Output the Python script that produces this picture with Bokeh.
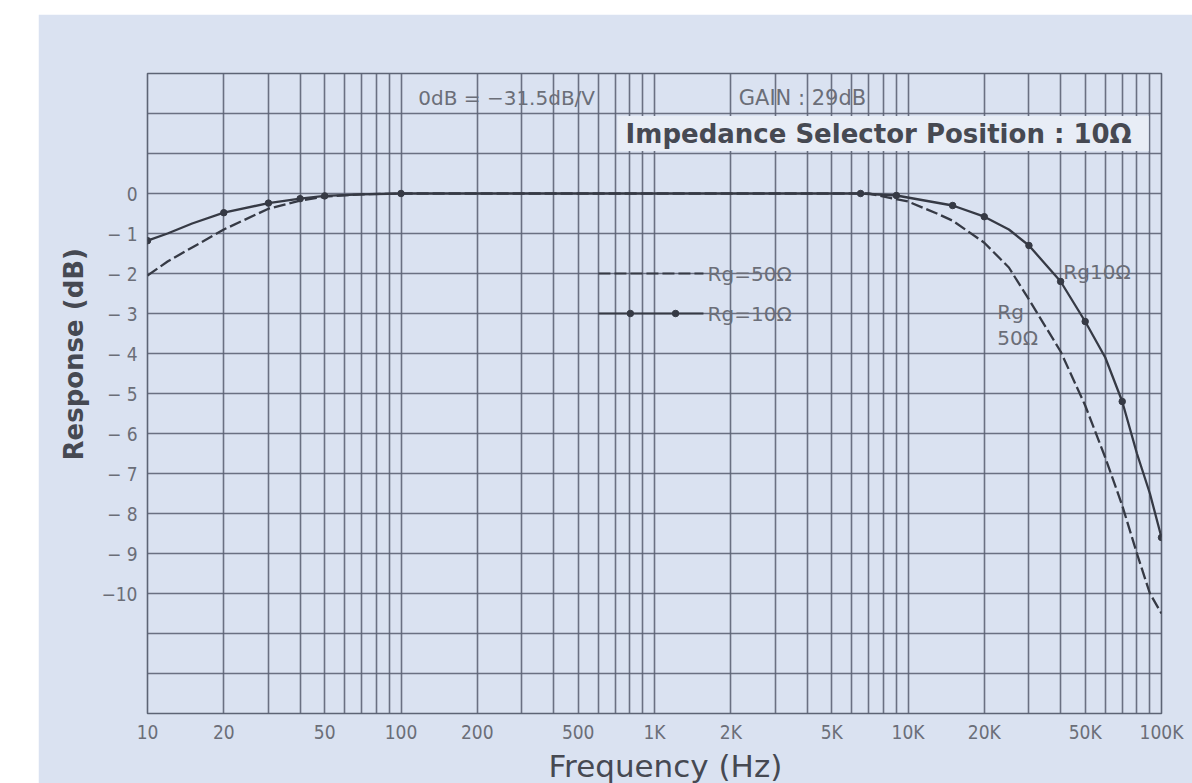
from bokeh.plotting import figure
from bokeh.models import FixedTicker, Label, Range1d, BoxAnnotation, Title
from bokeh.embed import file_html
from bokeh.resources import INLINE

# ---- data ----
freq_10 = [10, 12, 15, 20, 30, 40, 50, 70, 100, 6500, 9000, 15000, 20000, 25000,
           30000, 40000, 50000, 60000, 70000, 80000, 90000, 100000]
resp_10 = [-1.18, -1.0, -0.75, -0.48, -0.24, -0.13, -0.06, -0.02, 0, 0, -0.05, -0.3,
           -0.58, -0.9, -1.3, -2.2, -3.2, -4.1, -5.2, -6.5, -7.5, -8.6]
dot_freq_10 = [10, 20, 30, 40, 50, 100, 6500, 9000, 15000, 20000, 30000, 40000,
               50000, 70000, 100000]
dot_resp_10 = [-1.18, -0.48, -0.24, -0.13, -0.06, 0, 0, -0.05, -0.3, -0.58, -1.3,
               -2.2, -3.2, -5.2, -8.6]

freq_50 = [10, 12, 15, 20, 30, 40, 50, 70, 100, 7000, 10000, 13000, 15000, 20000,
           25000, 30000, 40000, 50000, 60000, 70000, 80000, 90000, 100000]
resp_50 = [-2.05, -1.7, -1.35, -0.9, -0.38, -0.18, -0.08, -0.02, 0, 0, -0.2, -0.5,
           -0.68, -1.23, -1.85, -2.65, -3.95, -5.3, -6.6, -7.8, -9.0, -10.0, -10.5]

x_ticks = [10, 20, 50, 100, 200, 500, 1000, 2000, 5000, 10000, 20000, 50000, 100000]
x_labels = ["10", "20", "50", "100", "200", "500", "1K", "2K", "5K", "10K", "20K",
            "50K", "100K"]
y_ticks = [0, -1, -2, -3, -4, -5, -6, -7, -8, -9, -10]
y_labels = ["0", "− 1", "− 2", "− 3", "− 4", "− 5", "− 6", "− 7", "− 8", "− 9", "−10"]

# ---- styling ----
PAPER = "#dae2f1"
BOXFILL = "#e8edf6"
GRID = "#5d6475"
INK = "#363a45"
TEXT = "#464952"
LIGHT_TEXT = "#6b6e78"
COND = "DejaVu Sans Condensed, DejaVu Sans, sans-serif"
SANS = "DejaVu Sans"

p = figure(width=1154, height=769, x_axis_type="log",
           x_range=Range1d(10, 100000), y_range=Range1d(-13, 3),
           output_backend="svg", toolbar_location=None,
           min_border_left=109, min_border_right=31,
           min_border_top=59, min_border_bottom=70,
           background_fill_color=PAPER, border_fill_color=PAPER,
           outline_line_color=GRID, outline_line_width=1.6,
           margin=(14, 0, 0, 38))

grid_x = [m * 10 ** d for d in range(1, 5) for m in range(1, 10)] + [100000]
p.xgrid.ticker = FixedTicker(ticks=grid_x)
p.ygrid.ticker = FixedTicker(ticks=list(range(-13, 4)))
for g in (p.xgrid, p.ygrid):
    g.grid_line_color = GRID
    g.grid_line_width = 1.6
    g.grid_line_alpha = 0.9

p.xaxis.ticker = FixedTicker(ticks=x_ticks)
p.xaxis.major_label_overrides = {t: l for t, l in zip(x_ticks, x_labels)}
p.yaxis.ticker = FixedTicker(ticks=y_ticks)
p.yaxis.major_label_overrides = {t: l for t, l in zip(y_ticks, y_labels)}

for ax in (p.xaxis, p.yaxis):
    ax.axis_line_color = None
    ax.major_tick_line_color = None
    ax.minor_tick_line_color = None
    ax.major_label_text_font = COND
    ax.major_label_text_font_size = "19px"
    ax.major_label_text_color = LIGHT_TEXT
p.xaxis.major_label_standoff = 1
p.yaxis.major_label_standoff = 4

# axis titles as side titles so they can sit off-centre like the original
p.add_layout(Title(text="Frequency (Hz)", align="left", offset=401,
                   text_font=SANS, text_font_size="31px",
                   text_font_style="normal", text_color=TEXT,
                   standoff=0), "below")
p.add_layout(Title(text="Response (dB)", align="left", offset=253,
                   text_font=SANS, text_font_size="26px",
                   text_font_style="bold", text_color=TEXT,
                   standoff=20), "left")

# label background box
p.add_layout(BoxAnnotation(left=714, right=89000, bottom=1.06, top=1.94,
                           fill_color=BOXFILL, fill_alpha=1.0, line_color=None))

# curves
p.line(freq_50, resp_50, line_color=INK, line_width=2.3, line_dash="12 4")
p.line(freq_10, resp_10, line_color=INK, line_width=2.3)
p.scatter(dot_freq_10, dot_resp_10, size=6.5, color=INK)

# legend
p.line([601, 1560], [-2, -2], line_color=INK, line_width=2.0, line_dash="12 4")
p.line([601, 1560], [-3, -3], line_color=INK, line_width=2.0)
p.scatter([803, 1211], [-3, -3], size=6.5, color=INK)

def lab(x, y, t, size, color=LIGHT_TEXT, font=SANS, style="normal", align="left"):
    p.add_layout(Label(x=x, y=y, text=t, text_font=font, text_font_size=size,
                       text_color=color, text_font_style=style, text_align=align,
                       text_baseline="middle"))

lab(1620, -2, "Rg=50Ω", "20px")
lab(1620, -3, "Rg=10Ω", "20px")
lab(41000, -1.95, "Rg10Ω", "20px")
lab(22500, -2.95, "Rg", "20px")
lab(22500, -3.6, "50Ω", "20px")
lab(117, 2.4, "0dB = −31.5dB/V", "20px")
lab(2150, 2.4, "GAIN : 29dB", "21px")
lab(7660, 1.5, "Impedance Selector Position : 10Ω", "26px", color=TEXT,
    style="bold", align="center")

open("out.html", "w").write(file_html(p, INLINE))
